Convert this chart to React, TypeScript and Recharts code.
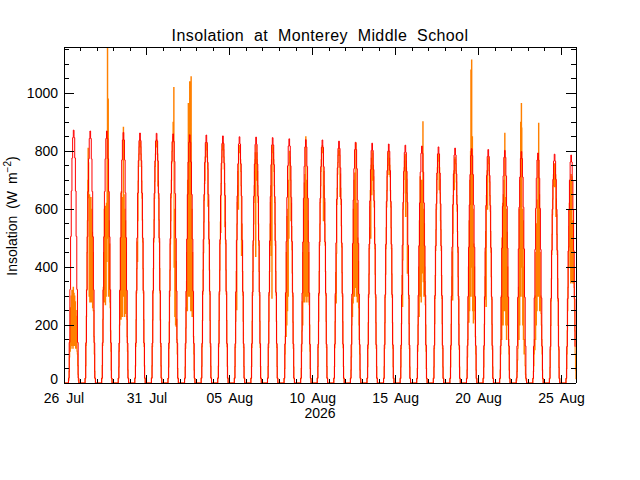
import { LineChart, Line, XAxis, YAxis, Label } from 'recharts'

const FONT = '"Liberation Sans", Arial, sans-serif'
const LAST_T = 740

// clear-sky estimate (red): hourly values for hours 07..21, one row per day from 26 Jul
const CLEAR_FIRST_HOUR = 7
const clearSky: number[][] = [
  [17, 140, 323, 506, 663, 777, 847, 873, 847, 777, 663, 506, 323, 140, 17],
  [17, 139, 322, 505, 661, 774, 844, 870, 844, 774, 661, 505, 322, 139, 17],
  [17, 139, 322, 505, 661, 774, 844, 870, 844, 774, 661, 505, 322, 139, 17],
  [17, 138, 320, 502, 657, 770, 839, 865, 839, 770, 657, 502, 320, 138, 17],
  [17, 138, 319, 501, 656, 768, 837, 863, 837, 768, 656, 501, 319, 138, 17],
  [17, 138, 319, 500, 655, 767, 836, 862, 836, 767, 655, 500, 319, 138, 17],
  [17, 138, 318, 499, 654, 765, 834, 860, 834, 765, 654, 499, 318, 138, 17],
  [17, 137, 317, 497, 651, 763, 831, 857, 831, 763, 651, 497, 317, 137, 17],
  [17, 137, 317, 496, 651, 762, 830, 856, 830, 762, 651, 496, 317, 137, 17],
  [17, 136, 316, 495, 648, 759, 827, 853, 827, 759, 648, 495, 316, 136, 17],
  [17, 136, 315, 493, 646, 757, 825, 850, 825, 757, 646, 493, 315, 136, 17],
  [17, 136, 314, 492, 645, 756, 824, 849, 824, 756, 645, 492, 314, 136, 17],
  [17, 136, 313, 491, 644, 754, 822, 847, 822, 754, 644, 491, 313, 136, 17],
  [17, 135, 312, 489, 641, 750, 818, 843, 818, 750, 641, 489, 312, 135, 17],
  [17, 134, 311, 487, 638, 748, 815, 840, 815, 748, 638, 487, 311, 134, 17],
  [17, 134, 310, 487, 638, 747, 814, 839, 814, 747, 638, 487, 310, 134, 17],
  [17, 134, 309, 484, 635, 743, 810, 835, 810, 743, 635, 484, 309, 134, 17],
  [17, 133, 307, 482, 632, 740, 806, 831, 806, 740, 632, 482, 307, 133, 17],
  [17, 132, 306, 480, 629, 737, 803, 828, 803, 737, 629, 480, 306, 132, 17],
  [16, 132, 305, 479, 627, 734, 800, 825, 800, 734, 627, 479, 305, 132, 16],
  [16, 131, 304, 476, 624, 731, 796, 821, 796, 731, 624, 476, 304, 131, 16],
  [16, 131, 303, 474, 622, 728, 793, 818, 793, 728, 622, 474, 303, 131, 16],
  [16, 130, 302, 473, 619, 725, 791, 815, 791, 725, 619, 473, 302, 130, 16],
  [16, 130, 300, 470, 616, 722, 787, 811, 787, 722, 616, 470, 300, 130, 16],
  [16, 129, 299, 469, 615, 720, 785, 809, 785, 720, 615, 469, 299, 129, 16],
  [16, 129, 298, 467, 613, 717, 782, 806, 782, 717, 613, 467, 298, 129, 16],
  [16, 128, 297, 466, 610, 715, 779, 803, 779, 715, 610, 466, 297, 128, 16],
  [16, 128, 296, 463, 607, 711, 775, 799, 775, 711, 607, 463, 296, 128, 16],
  [16, 127, 294, 461, 603, 707, 770, 794, 770, 707, 603, 461, 294, 127, 16],
  [16, 126, 292, 458, 600, 703, 766, 790, 766, 703, 600, 458, 292, 126, 16],
  [16, 126, 291, 456, 598, 700, 763, 787, 763, 700, 598, 456, 291, 126, 16],
]

// measured (orange): half-hourly values from 07:00 to 21:00, one row per day
const MEAS_FIRST_HOUR = 7
const MEAS_STEP = 0.5
const measured: number[][] = [
  [10, 40, 90, 150, 110, 260, 120, 300, 130, 320, 150, 300, 120, 330, 140, 310, 130, 300, 150, 280, 120, 250, 130, 230, 110, 100, 60, 30, 10],
  [15, 60, 130, 230, 320, 450, 560, 700, 810, 760, 640, 300, 650, 280, 620, 300, 640, 280, 600, 300, 520, 260, 450, 250, 250, 160, 100, 40, 15],
  [15, 60, 130, 220, 330, 450, 280, 600, 300, 610, 270, 560, 300, 620, 420, 850, 1190, 500, 980, 300, 560, 300, 480, 280, 260, 180, 110, 45, 15],
  [15, 55, 110, 200, 320, 230, 500, 220, 660, 250, 600, 230, 640, 300, 883, 400, 650, 230, 600, 260, 560, 240, 450, 230, 220, 160, 110, 45, 15],
  [17, 59, 126, 218, 311, 395, 487, 420, 560, 697, 748, 790, 815, 832, 840, 832, 815, 790, 748, 697, 638, 563, 487, 395, 311, 218, 126, 59, 17],
  [17, 59, 126, 218, 311, 395, 487, 563, 638, 697, 748, 790, 815, 832, 840, 832, 815, 790, 680, 697, 638, 563, 487, 395, 311, 218, 126, 59, 17],
  [15, 55, 120, 210, 300, 390, 480, 560, 640, 700, 760, 800, 830, 850, 900, 870, 1020, 400, 600, 230, 494, 200, 420, 195, 220, 150, 100, 50, 15],
  [15, 55, 120, 190, 260, 350, 450, 250, 700, 300, 965, 300, 860, 400, 1040, 300, 700, 250, 1057, 260, 600, 230, 450, 230, 230, 160, 100, 45, 15],
  [17, 58, 125, 216, 307, 390, 450, 556, 631, 689, 700, 780, 780, 822, 830, 822, 805, 780, 739, 610, 631, 556, 481, 390, 307, 216, 125, 58, 17],
  [17, 58, 125, 216, 307, 390, 481, 556, 520, 689, 739, 780, 805, 822, 830, 822, 805, 780, 739, 689, 540, 556, 481, 390, 307, 216, 125, 58, 17],
  [16, 57, 123, 213, 303, 385, 253, 549, 623, 681, 730, 600, 795, 812, 820, 812, 795, 771, 730, 681, 440, 549, 476, 385, 303, 213, 123, 57, 16],
  [16, 57, 123, 213, 303, 385, 476, 549, 623, 681, 730, 771, 795, 437, 820, 700, 795, 771, 730, 681, 623, 549, 476, 385, 303, 213, 123, 57, 16],
  [16, 57, 123, 213, 303, 385, 476, 549, 623, 681, 440, 771, 293, 812, 820, 812, 795, 771, 730, 681, 623, 549, 476, 385, 303, 213, 123, 57, 16],
  [15, 50, 100, 161, 300, 161, 450, 200, 575, 250, 600, 300, 700, 500, 760, 800, 780, 760, 700, 560, 620, 540, 460, 380, 300, 210, 120, 55, 15],
  [15, 50, 110, 180, 280, 200, 450, 280, 600, 300, 690, 280, 720, 300, 850, 320, 700, 280, 650, 300, 560, 300, 450, 280, 270, 200, 110, 50, 15],
  [16, 57, 123, 213, 303, 385, 476, 549, 623, 681, 730, 771, 795, 812, 820, 812, 795, 560, 730, 681, 623, 549, 476, 385, 303, 213, 123, 57, 16],
  [16, 57, 122, 211, 300, 381, 276, 448, 616, 672, 721, 761, 786, 802, 810, 802, 786, 644, 721, 672, 616, 543, 470, 381, 300, 211, 122, 57, 16],
  [15, 45, 90, 200, 290, 230, 450, 276, 600, 300, 700, 300, 725, 330, 700, 828, 500, 300, 620, 280, 500, 300, 420, 260, 200, 150, 100, 45, 15],
  [16, 56, 120, 208, 296, 376, 464, 536, 608, 664, 500, 752, 776, 650, 800, 792, 700, 752, 712, 664, 608, 536, 464, 376, 296, 208, 120, 56, 16],
  [16, 56, 120, 208, 296, 376, 464, 536, 608, 664, 712, 752, 776, 792, 800, 720, 776, 752, 712, 664, 608, 536, 464, 376, 296, 208, 120, 56, 16],
  [16, 55, 119, 205, 292, 371, 264, 425, 600, 656, 703, 743, 766, 782, 790, 575, 766, 743, 703, 656, 379, 471, 458, 371, 292, 205, 119, 55, 16],
  [15, 50, 110, 200, 230, 400, 230, 560, 300, 712, 300, 650, 280, 700, 380, 650, 400, 902, 350, 600, 300, 550, 400, 350, 270, 200, 110, 50, 15],
  [16, 55, 119, 205, 292, 371, 458, 529, 600, 656, 703, 743, 766, 782, 790, 782, 667, 743, 703, 656, 560, 529, 458, 371, 292, 205, 119, 55, 16],
  [16, 55, 117, 203, 289, 367, 452, 287, 517, 647, 694, 733, 667, 772, 780, 772, 757, 733, 694, 647, 593, 523, 452, 367, 289, 203, 117, 55, 16],
  [15, 45, 90, 150, 210, 400, 210, 560, 250, 700, 300, 800, 1080, 400, 1115, 300, 850, 250, 600, 207, 480, 250, 400, 260, 220, 160, 100, 45, 15],
  [16, 55, 117, 203, 289, 367, 452, 523, 264, 647, 694, 733, 600, 772, 780, 772, 757, 733, 694, 647, 593, 523, 452, 367, 289, 203, 117, 55, 16],
  [15, 45, 100, 150, 300, 150, 500, 200, 620, 200, 650, 300, 700, 250, 862, 300, 640, 200, 600, 150, 520, 200, 400, 200, 200, 150, 100, 45, 15],
  [10, 20, 40, 80, 120, 200, 330, 150, 600, 200, 700, 300, 900, 400, 965, 880, 300, 600, 200, 560, 150, 400, 100, 150, 100, 60, 30, 15, 10],
  [15, 40, 60, 100, 150, 115, 300, 150, 450, 200, 550, 250, 632, 300, 780, 400, 897, 300, 650, 250, 450, 300, 300, 240, 200, 150, 100, 45, 15],
  [15, 54, 115, 199, 283, 360, 444, 513, 581, 635, 681, 719, 742, 757, 678, 757, 742, 719, 575, 635, 581, 513, 444, 360, 283, 199, 115, 54, 15],
  [15, 50, 100, 180, 250, 330, 400, 470, 540, 620, 700, 400, 650, 345, 720, 480, 712, 350, 560, 345, 560, 400, 400, 330, 250, 180, 100, 45, 15],
]

const xTickLabels = ['26 Jul', '31 Jul', '05 Aug', '10 Aug', '15 Aug', '20 Aug', '25 Aug']
const yTicks = [0, 50, 100, 150, 200, 250, 300, 350, 400, 450, 500, 550, 600, 650, 700, 750, 800, 850, 900, 950, 1000, 1050, 1100, 1150]

const dayTicks: number[] = []
for (let d = 0; d <= 30; d++) dayTicks.push(d * 24)

// hourly red series, zero at night
const clearSeries: { t: number; v: number }[] = []
clearSky.forEach((row, d) => {
  for (let h = 0; h < 24; h++) {
    const t = d * 24 + h
    if (t > LAST_T) break
    const i = h - CLEAR_FIRST_HOUR
    clearSeries.push({ t, v: i >= 0 && i < row.length ? row[i] : 0 })
  }
})

// orange series: night hours zero, daytime at half-hour steps
const measuredSeries: { t: number; v: number }[] = []
measured.forEach((row, d) => {
  const dayStart = d * 24
  for (let h = 0; h < MEAS_FIRST_HOUR; h++) measuredSeries.push({ t: dayStart + h, v: 0 })
  row.forEach((v, i) => measuredSeries.push({ t: dayStart + MEAS_FIRST_HOUR + i * MEAS_STEP, v }))
  const lastHour = MEAS_FIRST_HOUR + (row.length - 1) * MEAS_STEP
  for (let h = lastHour + 1; h < 24; h++) {
    if (dayStart + h <= LAST_T) measuredSeries.push({ t: dayStart + h, v: 0 })
  }
})

function BottomTick(props: any) {
  const { x, y, payload } = props
  const major = payload.value % 120 === 0
  return (
    <g>
      <line x1={x} x2={x} y1={y} y2={y - (major ? 8 : 4)} stroke="#000" shapeRendering="crispEdges" />
      {major && (
        <text x={x} y={y + 20} textAnchor="middle" fontSize={14} fontFamily={FONT} wordSpacing={3} fill="#000">
          {xTickLabels[payload.value / 120]}
        </text>
      )}
    </g>
  )
}

function TopTick(props: any) {
  const { x, y, payload } = props
  const major = payload.value % 120 === 0
  return <line x1={x} x2={x} y1={y} y2={y + (major ? 8 : 4)} stroke="#000" shapeRendering="crispEdges" />
}

function LeftTick(props: any) {
  const { x, y, payload } = props
  const major = payload.value % 200 === 0
  return (
    <g>
      <line x1={x} x2={x + (major ? 10 : 5)} y1={y} y2={y} stroke="#000" shapeRendering="crispEdges" />
      {major && (
        <text x={x - 6} y={y + (payload.value === 0 ? 1 : 5)} textAnchor="end" fontSize={14} fontFamily={FONT} fill="#000">
          {payload.value}
        </text>
      )}
    </g>
  )
}

function RightTick(props: any) {
  const { x, y, payload } = props
  const major = payload.value % 200 === 0
  return <line x1={x} x2={x - (major ? 10 : 5)} y1={y} y2={y} stroke="#000" shapeRendering="crispEdges" />
}

export default function App() {
  const axisLine = { stroke: '#000', shapeRendering: 'crispEdges' }
  return (
    <div style={{ position: 'absolute', left: 0, top: 0, width: 640, height: 480, background: '#fff' }}>
      <LineChart width={640} height={480} margin={{ top: 46, right: 63, bottom: 0, left: 0 }}>
        <XAxis
          dataKey="t"
          type="number"
          domain={[0, 741]}
          allowDataOverflow
          ticks={dayTicks}
          interval={0}
          height={97}
          tickSize={0}
          tickMargin={0}
          tickLine={false}
          axisLine={axisLine}
          tick={<BottomTick />}
        >
          <Label
            content={() => (
              <text x={320} y={418} textAnchor="middle" fontSize={14} fontFamily={FONT} fill="#000">
                2026
              </text>
            )}
          />
        </XAxis>
        <XAxis
          xAxisId="top"
          orientation="top"
          dataKey="t"
          type="number"
          domain={[0, 741]}
          allowDataOverflow
          ticks={dayTicks}
          interval={0}
          height={1}
          tickSize={0}
          tickMargin={0}
          tickLine={false}
          axisLine={axisLine}
          tick={<TopTick />}
        >
          <Label
            content={() => (
              <text x={320} y={41} textAnchor="middle" fontSize={16} fontFamily={FONT} wordSpacing={5} letterSpacing={0.4} fill="#000">
                Insolation at Monterey Middle School
              </text>
            )}
          />
        </XAxis>
        <YAxis
          type="number"
          domain={[0, 1160]}
          allowDataOverflow
          ticks={yTicks}
          interval={0}
          width={64}
          tickSize={0}
          tickMargin={0}
          tickLine={false}
          axisLine={axisLine}
          tick={<LeftTick />}
        >
          <Label
            content={() => (
              <text transform="translate(17,216) rotate(-90)" textAnchor="middle" fontSize={14} fontFamily={FONT} wordSpacing={3} fill="#000">
                Insolation (W m<tspan dy={-6} fontSize={10}>−2</tspan>
                <tspan dy={6}>)</tspan>
              </text>
            )}
          />
        </YAxis>
        <YAxis
          yAxisId="right"
          orientation="right"
          type="number"
          domain={[0, 1160]}
          allowDataOverflow
          ticks={yTicks}
          interval={0}
          width={1}
          tickSize={0}
          tickMargin={0}
          tickLine={false}
          axisLine={axisLine}
          tick={<RightTick />}
        />
        <Line
          data={measuredSeries}
          type="step"
          dataKey="v"
          stroke="#ff8000"
          strokeWidth={1.1}
          dot={false}
          isAnimationActive={false}
        />
        <Line
          data={clearSeries}
          type="step"
          dataKey="v"
          stroke="#ff0000"
          strokeWidth={1}
          dot={false}
          isAnimationActive={false}
        />
      </LineChart>
    </div>
  )
}
